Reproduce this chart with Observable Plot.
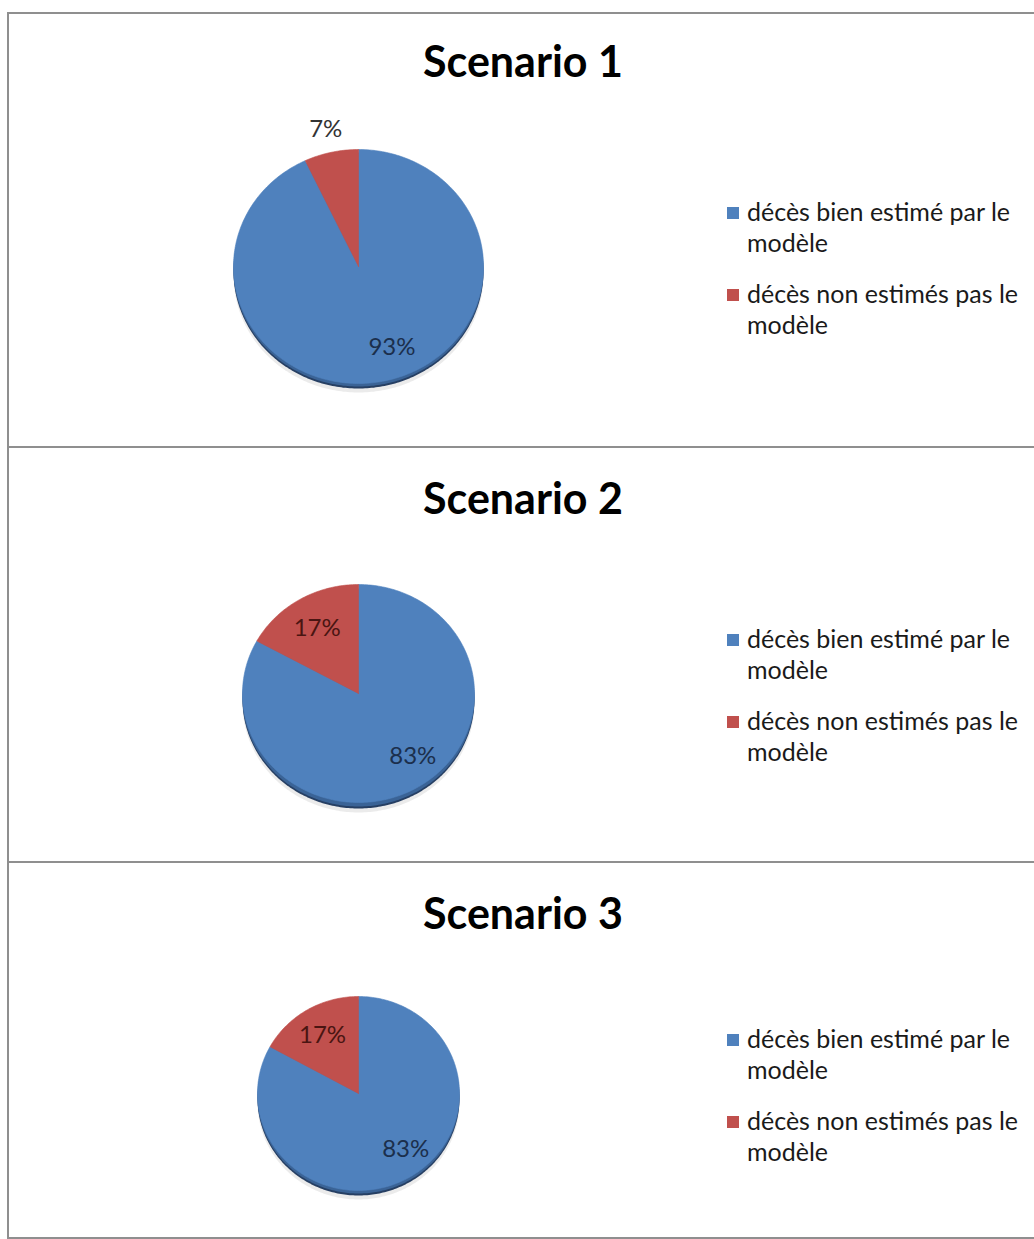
<!DOCTYPE html>
<html>
<head>
<meta charset="utf-8">
<script src="https://cdn.jsdelivr.net/npm/d3@7"></script>
<script src="https://cdn.jsdelivr.net/npm/@observablehq/plot@0.6"></script>
<style>
  body { margin: 0; background: #fff; font-family: Lato, "Open Sans", sans-serif; }
  #page { position: relative; width: 1034px; height: 1239px; overflow: hidden; background: #fff; }
  .hline { position: absolute; left: 7px; width: 1040px; height: 2px; background: #8f8f8f; }
  .vline { position: absolute; left: 7px; top: 12px; width: 2px; height: 1227px; background: #8f8f8f; }
  .panel { position: absolute; left: 0; width: 1034px; }
  .panel svg { position: absolute; left: 0; top: 0; }
  .title { position: absolute; left: 12px; width: 1022px; text-align: center; font-weight: 700;
           font-size: 43px; line-height: 50px; color: #000; white-space: nowrap; }
  .legend { position: absolute; left: 727px; width: 305px; }
  .item { position: relative; margin-bottom: 20px; }
  .sw { position: absolute; left: 0; top: 11px; width: 12px; height: 12px; }
  .lab { margin-left: 20px; width: 285px; font-size: 25px; line-height: 31px; color: #1a1a1a; }
</style>
</head>
<body>
<div id="page"></div>
<script>
// ---- data ----
const scenarios = ["Scenario 1", "Scenario 2", "Scenario 3"];
const categories = ["décès bien estimé par le modèle", "décès non estimés pas le modèle"];
const wellEstimated = [93, 83, 83];   // % décès bien estimé par le modèle
const notEstimated  = [7, 17, 17];    // % décès non estimés pas le modèle

// ---- layout (page pixels) ----
const layout = [
  {top: 12,  height: 435, cx: 358, cy: 266,  rx: 125, ry: 117, depth: 5},
  {top: 447, height: 415, cx: 358, cy: 693,  rx: 116, ry: 109, depth: 6},
  {top: 862, height: 377, cx: 358, cy: 1093, rx: 101, ry: 97,  depth: 5}
];
const colors = ["#4F81BD", "#C0504D"];
const insideText = ["#1b2f4c", "#4a1512"];

const page = document.getElementById("page");
[12, 446, 861, 1237].forEach(t => {
  const d = document.createElement("div"); d.className = "hline"; d.style.top = t + "px"; page.appendChild(d);
});
const v = document.createElement("div"); v.className = "vline"; page.appendChild(v);

function arcPoints(start, end, slice, withCenter) {
  const pts = withCenter ? [{slice, x: 0, y: 0}] : [];
  const n = Math.max(2, Math.ceil((end - start) / (Math.PI / 180)));
  for (let k = 0; k <= n; k++) {
    const a = start + (end - start) * k / n;
    pts.push({slice, x: Math.sin(a), y: Math.cos(a)});
  }
  if (withCenter) pts.push({slice, x: 0, y: 0});
  return pts;
}

scenarios.forEach((name, i) => {
  const L = layout[i];
  const values = [wellEstimated[i], notEstimated[i]];
  const table = categories.map((c, j) => ({category: c, value: values[j]}));
  const arcs = d3.pie().sort(null).value(d => d.value)(table);

  const wedges = arcs.flatMap(a => arcPoints(a.startAngle, a.endAngle, a.data.category, true));
  const rim = arcPoints(0, 2 * Math.PI, "rim", false);
  const labels = arcs.map((a, j) => {
    const mid = (a.startAngle + a.endAngle) / 2;
    const outside = a.data.value < 10;
    // best-fit style placement: large slices' labels sit a little toward the right
    const ang = outside ? mid : (j === 0 ? mid - 0.15 : mid);
    const r = outside ? 1.2 : (j === 0 ? 0.74 : 0.7);
    return {x: Math.sin(ang) * r, y: Math.cos(ang) * r, text: a.data.value + "%", j, outside};
  });

  const cyLocal = L.cy - L.top;
  const svg = Plot.plot({
    width: 1034,
    height: L.height,
    margin: 0,
    style: {background: "transparent", overflow: "visible"},
    x: {domain: [-1, 1], range: [L.cx - L.rx, L.cx + L.rx], axis: null},
    y: {domain: [-1, 1], range: [cyLocal + L.ry, cyLocal - L.ry], axis: null},
    color: {domain: categories, range: colors},
    marks: [
      Plot.line(rim, {x: "x", y: "y", fill: "#000", fillOpacity: 0.08, stroke: "none", dy: L.depth + 4}),
      Plot.line(rim, {x: "x", y: "y", fill: "#263f63", stroke: "none", dy: L.depth}),
      Plot.line(rim, {x: "x", y: "y", fill: "#3a6396", stroke: "none", dy: L.depth - 2}),
      Plot.line(wedges, {x: "x", y: "y", z: "slice", fill: "slice", stroke: "slice", strokeWidth: 0.6, curve: "linear"}),
      Plot.text(labels.filter(d => !d.outside), {x: "x", y: "y", text: "text", fontSize: 24,
        fontFamily: "Lato, sans-serif", fill: d => insideText[d.j]}),
      Plot.text(labels.filter(d => d.outside), {x: "x", y: "y", text: "text", fontSize: 24,
        fontFamily: "Lato, sans-serif", fill: "#333"})
    ]
  });

  const panel = document.createElement("div");
  panel.className = "panel";
  panel.style.top = L.top + "px";
  panel.style.height = L.height + "px";
  panel.appendChild(svg);

  const title = document.createElement("div");
  title.className = "title";
  title.style.top = (i === 0 ? 24 : 26) + "px";
  title.textContent = name;
  panel.appendChild(title);

  const legend = document.createElement("div");
  legend.className = "legend";
  legend.style.top = (cyLocal - 70) + "px";
  categories.forEach((c, j) => {
    const item = document.createElement("div"); item.className = "item";
    const sw = document.createElement("div"); sw.className = "sw"; sw.style.background = colors[j];
    const lab = document.createElement("div"); lab.className = "lab"; lab.textContent = c;
    item.appendChild(sw); item.appendChild(lab); legend.appendChild(item);
  });
  panel.appendChild(legend);

  page.appendChild(panel);
});
</script>
</body>
</html>
